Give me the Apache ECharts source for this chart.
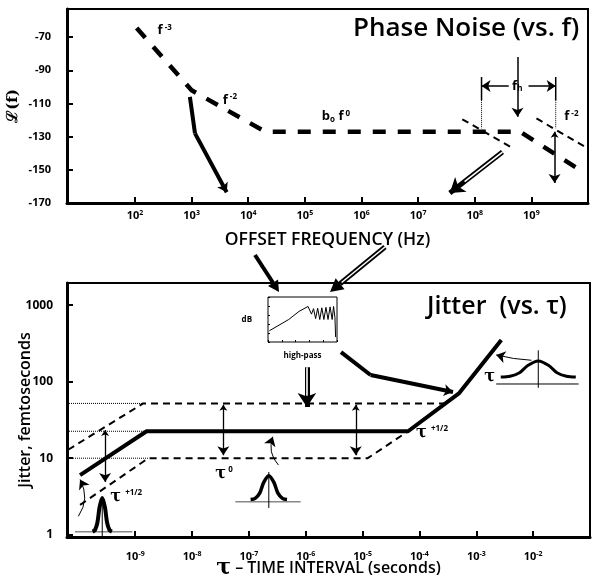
<!DOCTYPE html>
<html>
<head>
<meta charset="utf-8">
<script src="https://cdn.jsdelivr.net/npm/echarts@6/dist/echarts.min.js"></script>
<style>
  html, body { margin: 0; background: #fff; }
  #main { width: 592px; height: 575px; }
</style>
</head>
<body>
<div id="main"></div>
<script>
// phase noise plot: x = log10(offset freq), y = dBc/Hz
var pnLogF = [2.03, 3.0, 4.3, 8.8, 9.9];
var pnDbc = [-64.5, -102, -127, -127, -151];
// thin f^-2 asymptotes around f_h
var asymALogF = [7.78, 8.65];
var asymADbc = [-119.5, -136.5];
var asymBLogF = [9.09, 9.99];
var asymBDbc = [-119, -137];
var freqTicks = [2, 3, 4, 5, 6, 7, 8, 9];
var dbTicks = [-170, -150, -130, -110, -90, -70];

// jitter plot: x = log10(tau), y = femtoseconds
var jitLogTau = [-9.97, -8.8, -4.2, -3.3, -2.56];
var jitFs = [6.0, 22.5, 22.5, 71, 350];
var upLogTau = [-10.18, -8.86, -3.53];
var upFs = [12.9, 52, 52];
var loLogTau = [-9.97, -8.77, -4.91, -4.2];
var loFs = [2.45, 10, 10, 22.5];
var tauTicks = [-9, -8, -7, -6, -5, -4, -3, -2];
var fsTicks = [1, 10, 100, 1000];

// high-pass inset curve (normalised 0..1)
var hpX = [0.02, 0.3, 0.45, 0.58, 0.63, 0.66, 0.69, 0.72, 0.75, 0.78, 0.81, 0.84, 0.87, 0.9, 0.93, 0.95, 0.97, 0.98];
var hpY = [0.25, 0.5, 0.68, 0.79, 0.62, 0.74, 0.52, 0.75, 0.5, 0.76, 0.5, 0.77, 0.5, 0.78, 0.5, 0.79, 0.55, 0.11];

// bell shape used for the little distributions
var bellX = [-1, -0.75, -0.5, -0.28, 0, 0.28, 0.5, 0.75, 1];
var bellY = [0, 0.05, 0.27, 0.72, 1, 0.72, 0.27, 0.05, 0];

var FONT = 'Open Sans';

function zip(xs, ys, fy) {
    return xs.map(function (x, i) { return [x, fy ? fy(ys[i]) : ys[i]]; });
}
function lg(v) { return Math.log10(v); }
function bell(cx, hw, base, h) {
    return bellX.map(function (x, i) { return [cx + x * hw, base + bellY[i] * h]; });
}

var rich = {
    b: { fontFamily: FONT, fontSize: 13, fontWeight: 'bold', color: '#000' },
    s: { fontFamily: FONT, fontSize: 8, fontWeight: 'bold', color: '#000', verticalAlign: 'top', lineHeight: 14 },
    u: { fontFamily: FONT, fontSize: 8, fontWeight: 'bold', color: '#000', verticalAlign: 'bottom', lineHeight: 14 },
    t: { fontFamily: 'DejaVu Serif', fontSize: 16, fontWeight: 'bold', color: '#000' }
};
var tickRich = {
    b: { fontFamily: FONT, fontSize: 11, fontWeight: 'bold', color: '#000', lineHeight: 14 },
    s: { fontFamily: FONT, fontSize: 7, fontWeight: 'bold', color: '#000', verticalAlign: 'top', lineHeight: 14 }
};

function line(xi, data, color, width, type, smooth) {
    return {
        type: 'line', xAxisIndex: xi, yAxisIndex: xi, data: data, symbol: 'none', silent: true,
        smooth: smooth || false,
        lineStyle: { color: color, width: width, type: type || 'solid' }
    };
}
function arrow(xi, from, to, width, both, curve) {
    return {
        type: 'lines', coordinateSystem: 'cartesian2d', xAxisIndex: xi, yAxisIndex: xi, silent: true,
        symbol: [both ? 'arrow' : 'none', 'arrow'], symbolSize: [6, 9],
        lineStyle: { color: '#000', width: width, opacity: 1, curveness: curve || 0 },
        data: [{ coords: [from, to] }]
    };
}
function hollowArrow(xi, from, to) {
    var k = 0.72;
    var mid = [from[0] + (to[0] - from[0]) * k, from[1] + (to[1] - from[1]) * k];
    return [
        {
            type: 'lines', coordinateSystem: 'cartesian2d', xAxisIndex: xi, yAxisIndex: xi, silent: true,
            symbol: ['none', 'arrow'], symbolSize: [11, 14],
            lineStyle: { color: '#000', width: 5, opacity: 1 },
            data: [{ coords: [from, to] }]
        },
        {
            type: 'lines', coordinateSystem: 'cartesian2d', xAxisIndex: xi, yAxisIndex: xi, silent: true,
            symbol: 'none', lineStyle: { color: '#fff', width: 1.6, opacity: 1 },
            data: [{ coords: [from, mid] }]
        }
    ];
}
function labels(xi, items) {
    return {
        type: 'scatter', xAxisIndex: xi, yAxisIndex: xi, symbolSize: 0, silent: true, z: 8,
        itemStyle: { opacity: 1 },
        label: { show: true, position: 'right', distance: 0, color: '#000', rich: rich },
        data: items.map(function (it) {
            return { value: [it[0], it[1]], label: { formatter: it[2] } };
        })
    };
}

// pixel arrows between the two panels
function gArrow(x1, y1, x2, y2, w, hollow) {
    var dx = x2 - x1, dy = y2 - y1, L = Math.sqrt(dx * dx + dy * dy);
    var ux = dx / L, uy = dy / L, px = -uy, py = ux;
    var hl = hollow ? 13 : 11, hw = hollow ? 7 : 6;
    var bx = x2 - ux * hl, by = y2 - uy * hl;
    var out = [
        { type: 'line', shape: { x1: x1, y1: y1, x2: bx, y2: by }, style: { stroke: '#000', lineWidth: w } },
        { type: 'polygon', shape: { points: [[x2, y2], [bx + px * hw, by + py * hw], [bx - px * hw, by - py * hw]] }, style: { fill: '#000' } }
    ];
    if (hollow) {
        out.push({ type: 'line', shape: { x1: x1, y1: y1, x2: bx - ux * 2, y2: by - uy * 2 }, style: { stroke: '#fff', lineWidth: 1.6 } });
    }
    return out;
}

var series = [
    // ---- phase noise
    line(0, zip(pnLogF, pnDbc), '#000', 4.5, [13, 12]),
    line(0, zip(asymALogF, asymADbc), '#000', 2, [7, 5]),
    line(0, zip(asymBLogF, asymBDbc), '#000', 2, [7, 5]),
    line(0, [[2.97, -106], [3.06, -128]], '#000', 4),
    arrow(0, [3.06, -128], [3.62, -163.5], 4),
    arrow(0, [8.755, -82], [8.755, -118], 1.5),
    arrow(0, [8.6, -99.5], [8.12, -99.5], 1.5),
    arrow(0, [8.95, -99.5], [9.43, -99.5], 1.5),
    line(0, [[8.12, -94], [8.12, -108]], '#000', 1.5),
    line(0, [[9.43, -94], [9.43, -108]], '#000', 1.5),
    line(0, [[8.12, -108], [8.12, -125]], '#000', 1, 'dotted'),
    line(0, [[9.43, -108], [9.43, -125]], '#000', 1, 'dotted'),
    arrow(0, [9.41, -127], [9.41, -158], 1.5, true),
    labels(0, [
        [2.4, -66, '{b|f}{s| -3}'],
        [3.55, -108, '{b|f}{s| -2}'],
        [5.3, -118, '{b|b}{u|o}{b| f}{s| 0}'],
        [8.66, -99.5, '{b|f}{u|h}'],
        [9.58, -118, '{b|f}{s| -2}']
    ]),
    // ---- jitter
    line(1, [[-10.2, lg(52)], [-8.86, lg(52)]], '#000', 1, 'dotted'),
    line(1, [[-10.2, lg(22.5)], [-8.8, lg(22.5)]], '#000', 1, 'dotted'),
    line(1, [[-10.2, lg(10)], [-8.77, lg(10)]], '#000', 1, 'dotted'),
    line(1, zip(upLogTau, upFs, lg), '#000', 2, [7, 5]),
    line(1, zip(loLogTau, loFs, lg), '#000', 2, [7, 5]),
    line(1, zip(jitLogTau, jitFs, lg), '#000', 4),
    arrow(1, [-9.53, 1.37], [-9.53, 0.69], 1.3, true),
    arrow(1, [-7.45, 1.70], [-7.45, 1.04], 1.3, true),
    arrow(1, [-5.12, 1.70], [-5.12, 1.04], 1.3, true),
    line(1, [[-5.38, 2.387], [-4.86, 2.087]], '#000', 4),
    arrow(1, [-4.86, 2.087], [-3.41, 1.866], 4),
    // little distributions
    line(1, [[-10.06, 0.04], [-9.05, 0.04]], '#888', 1.5),
    line(1, [[-9.58, 0.5], [-9.58, -0.03]], '#000', 1),
    line(1, bell(-9.58, 0.17, 0.04, 0.44), '#000', 4, 'solid', 0.3),
    line(1, [[-7.24, 0.43], [-6.09, 0.43]], '#888', 1.5),
    line(1, [[-6.65, 0.82], [-6.65, 0.35]], '#000', 1),
    line(1, bell(-6.65, 0.32, 0.46, 0.31), '#000', 3.5, 'solid', 0.3),
    line(1, [[-2.65, 1.97], [-1.2, 1.97]], '#000', 1),
    line(1, [[-1.91, 2.41], [-1.91, 1.92]], '#000', 1),
    line(1, bell(-1.91, 0.66, 2.06, 0.21), '#000', 3, 'solid', 0.3),
    arrow(1, [-10.0, 0.24], [-9.97, 0.72], 1, false, -0.3),
    arrow(1, [-6.48, 0.91], [-6.58, 1.28], 1, false, 0.3),
    arrow(1, [-2.03, 2.28], [-2.65, 2.35], 1, false, 0.05),
    labels(1, [
        [-9.44, 0.50, '{t|τ}{s|  +1/2}'],
        [-7.59, 0.80, '{t|τ}{s| 0}'],
        [-4.06, 1.33, '{t|τ}{s|  +1/2}'],
        [-2.86, 2.06, '{t|τ}']
    ]),
    // ---- high-pass inset
    {
        type: 'line', xAxisIndex: 2, yAxisIndex: 2, symbol: 'none', silent: true, z: 10,
        data: zip(hpX, hpY), lineStyle: { color: '#000', width: 1 }
    }
];
series = series.concat(hollowArrow(0, [8.49, -139.3], [7.56, -164]));
series = series.concat(hollowArrow(1, [-5.98, 2.19], [-5.98, 1.67]));

function logAxisX(gi, min, max, ticks, name, gap, margin, nameSize, nameRich) {
    return {
        type: 'value', gridIndex: gi, min: min, max: max,
        axisLine: { show: true, onZero: false, lineStyle: { color: '#000', width: 3 } },
        axisTick: { inside: true, length: 6, customValues: ticks, lineStyle: { color: '#000', width: 2 } },
        axisLabel: {
            margin: margin, customValues: ticks, rich: tickRich,
            formatter: function (v) { return '{b|10}{s|' + v + '}'; }
        },
        splitLine: { show: false },
        name: name, nameLocation: 'middle', nameGap: gap, nameMoveOverlap: false,
        nameTextStyle: { fontFamily: FONT, fontSize: nameSize, fontWeight: 600, color: '#000', rich: nameRich }
    };
}

var option = {
    animation: false,
    backgroundColor: '#fff',
    title: [
        { text: 'Phase Noise (vs. f)', left: 353, top: 16, padding: 0,
          textStyle: { fontFamily: FONT, fontSize: 26, fontWeight: 600, color: '#000' } },
        { text: 'Jitter  (vs. τ)', left: 427, top: 294, padding: 0,
          textStyle: { fontFamily: FONT, fontSize: 25, fontWeight: 600, color: '#000' } }
    ],
    grid: [
        { left: 67, right: 4, top: 9, height: 194, show: true, borderColor: '#000', borderWidth: 2, outerBoundsMode: 'none' },
        { left: 67, right: 2, top: 283, height: 254, show: true, borderColor: '#000', borderWidth: 2, outerBoundsMode: 'none' },
        { left: 268, top: 297, width: 69, height: 45, show: true, borderColor: '#000', borderWidth: 1, backgroundColor: '#fff', z: 5, outerBoundsMode: 'none' }
    ],
    xAxis: [
        logAxisX(0, 0.8, 10, freqTicks, 'OFFSET FREQUENCY (Hz)', 28, 6, 17.5),
        logAxisX(1, -10.2, -1.0, tauTicks, '{t|τ} – TIME INTERVAL (seconds)', 20, 13, 16,
            { t: { fontFamily: 'DejaVu Serif', fontSize: 22, fontWeight: 'bold', color: '#000' } }),
        {
            type: 'value', gridIndex: 2, min: 0, max: 1, z: 6,
            axisLine: { show: false }, axisLabel: { show: false }, splitLine: { show: false },
            axisTick: { inside: true, length: 2, lineStyle: { color: '#000' } },
            name: 'high-pass', nameLocation: 'middle', nameGap: 10,
            nameTextStyle: { fontFamily: FONT, fontSize: 8, fontWeight: 'bold', color: '#000' }
        }
    ],
    yAxis: [
        {
            type: 'value', gridIndex: 0, min: -170, max: -53,
            axisLine: { show: true, lineStyle: { color: '#000', width: 3 } },
            axisTick: { inside: true, length: 6, customValues: dbTicks, lineStyle: { color: '#000', width: 2 } },
            axisLabel: { margin: 16, customValues: dbTicks, fontFamily: FONT, fontSize: 11, fontWeight: 'bold', color: '#000' },
            splitLine: { show: false },
            name: 'ℒ(f)', nameLocation: 'middle', nameGap: 46, nameRotate: 90, nameMoveOverlap: false,
            nameTextStyle: { fontFamily: 'DejaVu Serif', fontSize: 15, fontWeight: 'bold', color: '#000' }
        },
        {
            type: 'value', gridIndex: 1, min: -0.03, max: 3.29,
            axisLine: { show: true, lineStyle: { color: '#000', width: 3 } },
            axisTick: { inside: true, length: 6, customValues: fsTicks.map(lg), lineStyle: { color: '#000', width: 2 } },
            axisLabel: {
                margin: 14, customValues: fsTicks.map(lg), fontFamily: FONT, fontSize: 12, fontWeight: 'bold', color: '#000',
                formatter: function (v) { return String(Math.round(Math.pow(10, v))); }
            },
            splitLine: { show: false },
            name: 'Jitter, femtoseconds', nameLocation: 'middle', nameGap: 34, nameRotate: 90, nameMoveOverlap: false,
            nameTextStyle: { fontFamily: FONT, fontSize: 16, fontWeight: 600, color: '#000' }
        },
        {
            type: 'value', gridIndex: 2, min: 0, max: 1, z: 6,
            axisLine: { show: false }, axisLabel: { show: false }, splitLine: { show: false },
            axisTick: { inside: true, length: 2, lineStyle: { color: '#000' } },
            name: 'dB', nameLocation: 'middle', nameGap: 16, nameRotate: 0,
            nameTextStyle: { fontFamily: FONT, fontSize: 8, fontWeight: 'bold', color: '#000' }
        }
    ],
    graphic: [].concat(
        gArrow(255, 255, 279, 292, 4, false),
        gArrow(385, 247, 330, 292, 5, true)
    ),
    series: series
};

var chart = echarts.init(document.getElementById('main'));
chart.setOption(option);
</script>
</body>
</html>
